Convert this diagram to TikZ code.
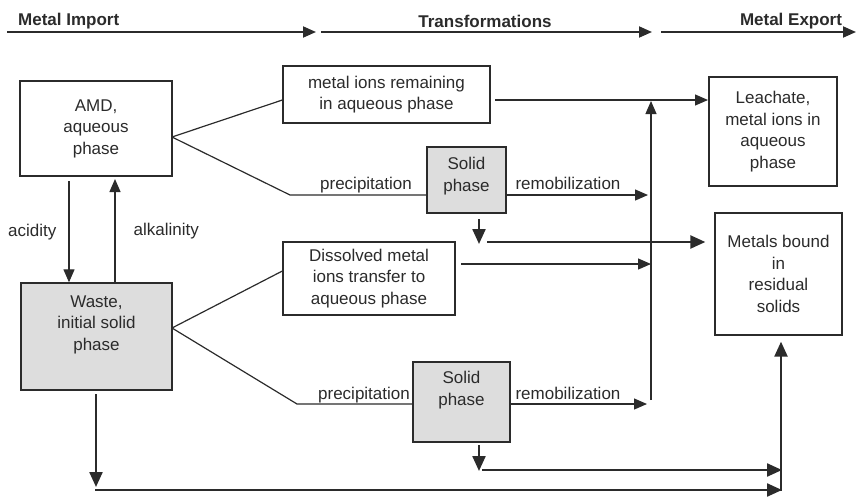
\documentclass[tikz,border=0pt]{standalone}
\usepackage{fontspec}
\setmainfont{Liberation Sans}
\usetikzlibrary{arrows.meta,positioning}
\definecolor{ink}{HTML}{2B2B2B}
\definecolor{solidgray}{HTML}{DDDDDD}
\tikzset{
  phasebox/.style={
    rectangle, draw=ink, fill=#1, line width=1.3pt,
    inner sep=0pt, align=center, text=ink,
    font=\fontsize{17}{21.5}\selectfont
  },
  phasebox/.default=white,
  boxtext/.style={
    align=center, text=ink, inner sep=0pt,
    font=\fontsize{17}{21.5}\selectfont
  },
  steplabel/.style={
    font=\fontsize{17}{20}\selectfont, text=ink, inner sep=0pt
  },
  headlabel/.style={
    font=\bfseries\fontsize{17}{20}\selectfont, text=ink, inner sep=0pt
  },
  link/.style={line width=1.2pt, draw=ink},
  flow/.style={
    -{Triangle[length=13pt,width=11pt]}, line width=1.2pt, draw=ink, color=ink
  },
  bigflow/.style={
    -{Triangle[length=15pt,width=13pt]}, line width=2.3pt, draw=ink, color=ink
  },
}

\begin{document}
\begin{tikzpicture}[x=1pt, y=-1pt]
  \useasboundingbox (0,0) rectangle (857,496);

  % header
  \node[headlabel, anchor=west] (import) at (18,21) {Metal Import};
  \node[headlabel] (trans) at (485,21) {Transformations};
  \node[headlabel] (export) at (791,21) {Metal Export};
  \coordinate (h0) at (7,32);
  \coordinate (h1) at (316,32);
  \coordinate (h2) at (321,32);
  \coordinate (h3) at (652,32);
  \coordinate (h4) at (661,32);
  \coordinate (h5) at (856,32);
  \draw[flow, line width=1.9pt] (h0) -- (h1);
  \draw[flow, line width=1.9pt] (h2) -- (h3);
  \draw[flow, line width=1.9pt] (h4) -- (h5);

  % source phases
  \node[phasebox, minimum width=152pt, minimum height=95pt] (amd)
    at (96,128.5) {AMD,\\aqueous\\phase};
  \node[phasebox=solidgray, minimum width=151pt, minimum height=107pt,
    label={[boxtext, yshift=12pt]center:{Waste,\\initial solid\\phase}}]
    (waste) at (96.5,336.5) {};

  \coordinate (acidtop) at (69,181);
  \coordinate (alktop) at (115,179);
  \draw[flow] (acidtop) -- (waste.north -| acidtop)
    node[steplabel, midway, left=12pt] (acid) {acidity};
  \draw[flow] (waste.north -| alktop) -- (alktop)
    node[steplabel, midway, right=18pt] (alk) {alkalinity};

  % transformations
  \node[phasebox, minimum width=207pt, minimum height=57pt] (remain)
    at (386.5,94.5) {metal ions remaining\\in aqueous phase};
  \node[phasebox=solidgray, minimum width=79pt, minimum height=66pt,
    label={[boxtext, yshift=4pt]center:{Solid\\phase}}]
    (solid1) at (466.5,180) {};
  \node[phasebox, minimum width=172pt, minimum height=73pt] (transfer)
    at (369,278.5) {Dissolved metal\\ions transfer to\\aqueous phase};
  \node[phasebox=solidgray, minimum width=97pt, minimum height=80pt,
    label={[boxtext, yshift=12pt]center:{Solid\\phase}}]
    (solid2) at (461.5,402) {};

  % export
  \node[phasebox, minimum width=128pt, minimum height=109pt] (leach)
    at (773,131.5) {Leachate,\\metal ions in\\aqueous\\phase};
  \node[phasebox, minimum width=127pt, minimum height=122pt] (resid)
    at (778.5,274) {Metals bound\\in\\residual\\solids};

  \coordinate (amdtip) at (172,137);
  \coordinate (prec1) at (290,195);
  \coordinate (wastetip) at (172,328);
  \coordinate (prec2) at (297,404);
  \coordinate (riserfoot) at (651,400);
  \coordinate (risertop) at (651,101);
  \coordinate (remainout) at (495,100);
  \coordinate (leachin) at (708,100);
  \coordinate (transout) at (461,264);

  % AMD branches
  \draw[link] (amdtip) -- ([yshift=-5.5pt]remain.west);
  \draw[link] (amdtip) -- (prec1) -- (solid1.west |- prec1);
  \node[steplabel, anchor=base] (prec1lab) at (366,189) {precipitation};
  \draw[flow] (solid1.east |- prec1) -- (648,195);
  \node[steplabel, anchor=base] (remob1lab) at (568,189) {remobilization};
  \draw[flow] (remainout) -- (leachin);

  % waste branches
  \draw[link] (wastetip) -- ([yshift=7.5pt]transfer.west);
  \draw[link] (wastetip) -- (prec2) -- (solid2.west |- prec2);
  \node[steplabel, anchor=base] (prec2lab) at (364,399) {precipitation};
  \draw[flow] (solid2.east |- prec2) -- (647,404);
  \node[steplabel, anchor=base] (remob2lab) at (568,399) {remobilization};
  \draw[flow] (transout) -- (riserfoot |- transout);
  \draw[flow] (riserfoot) -- (risertop);

  % to residual solids
  \coordinate (drop1) at (479,219);
  \coordinate (drop2) at (479,445);
  \coordinate (drop3) at (96,394);
  \coordinate (rise) at (781,491);
  \draw[bigflow] (drop1) -- (479,244);
  \draw[bigflow] (487,242) -- ([xshift=-9pt]resid.west |- 0,242);
  \draw[bigflow] (drop2) -- (479,471);
  \draw[bigflow] (482,470) -- (782,470);
  \draw[bigflow] (drop3) -- (96,487);
  \draw[bigflow] (95,490) -- (782,490);
  \draw[bigflow] (rise) -- ([yshift=-6pt]resid.south -| rise);
\end{tikzpicture}
\end{document}
